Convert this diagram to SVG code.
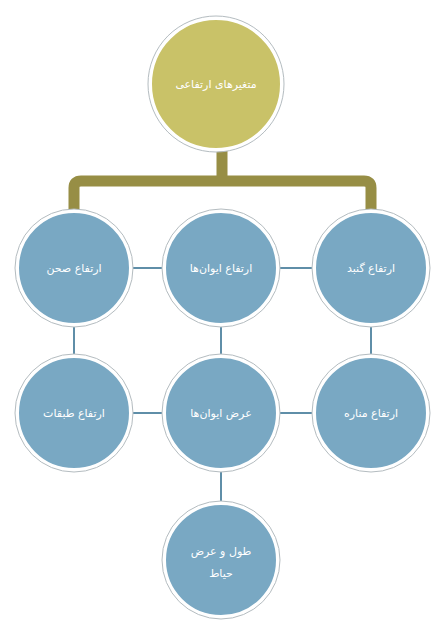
<svg xmlns="http://www.w3.org/2000/svg" width="432" height="623" viewBox="0 0 432 623">
<style>
.b{fill:#79a8c3;stroke:#ffffff;stroke-width:4}
.o{fill:none;stroke:#b4bcc0;stroke-width:1}
.t{font-family:"DejaVu Sans","Noto Sans",sans-serif;font-size:11px;fill:#ffffff;text-anchor:middle}
.c{stroke:#5f8ea8;stroke-width:2;fill:none}
</style>
<rect width="432" height="623" fill="#ffffff"/>
<g id="connectors">
<path d="M222 140 V181 M74 212 V188 Q74 181 81 181 H364 Q371 181 371 188 V212" stroke="#978e45" stroke-width="11" fill="none"/>
<path class="c" d="M131 268 H162 M279 268 H313 M74 326 V356 M221 326 V356 M371 326 V356 M131 413 H162 M279 413 H313 M221 471 V502"/>
</g>
<g id="n0">
<circle cx="216" cy="84" r="66" fill="#c9c268" stroke="#ffffff" stroke-width="4"/>
<circle cx="216" cy="84" r="68" class="o"/>
<text x="216" y="88" class="t" direction="rtl">متغیرهای ارتفاعی</text>
</g>
<g id="n1">
<circle cx="74" cy="268" r="57" class="b"/><circle cx="74" cy="268" r="59" class="o"/>
<text x="74" y="272" class="t" direction="rtl">ارتفاع صحن</text>
</g>
<g id="n2">
<circle cx="221" cy="268" r="57" class="b"/><circle cx="221" cy="268" r="59" class="o"/>
<text x="221" y="272" class="t" direction="rtl">ارتفاع ایوان‌ها</text>
</g>
<g id="n3">
<circle cx="371" cy="268" r="57" class="b"/><circle cx="371" cy="268" r="59" class="o"/>
<text x="371" y="272" class="t" direction="rtl">ارتفاع گنبد</text>
</g>
<g id="n4">
<circle cx="74" cy="413" r="57" class="b"/><circle cx="74" cy="413" r="59" class="o"/>
<text x="74" y="417" class="t" direction="rtl">ارتفاع طبقات</text>
</g>
<g id="n5">
<circle cx="221" cy="413" r="57" class="b"/><circle cx="221" cy="413" r="59" class="o"/>
<text x="221" y="417" class="t" direction="rtl">عرض ایوان‌ها</text>
</g>
<g id="n6">
<circle cx="371" cy="413" r="57" class="b"/><circle cx="371" cy="413" r="59" class="o"/>
<text x="371" y="417" class="t" direction="rtl">ارتفاع مناره</text>
</g>
<g id="n7">
<circle cx="221" cy="560" r="57" class="b"/><circle cx="221" cy="560" r="59" class="o"/>
<text x="221" y="555" class="t" direction="rtl">طول و عرض</text>
<text x="221" y="577" class="t" direction="rtl">حیاط</text>
</g>
</svg>
